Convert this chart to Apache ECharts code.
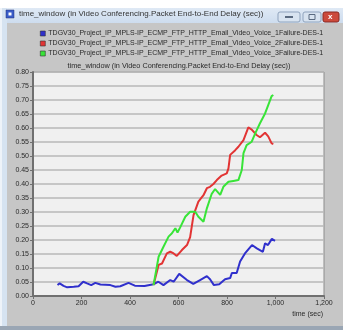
<!DOCTYPE html>
<html><head><meta charset="utf-8">
<script src="https://cdn.jsdelivr.net/npm/echarts@6/dist/echarts.min.js"></script>
<style>html,body{margin:0;padding:0;background:#fff}#c{width:343px;height:330px}</style>
</head><body><div id="c"></div>
<script>
const seriesNames = [
  'TDGV30_Project_IP_MPLS-IP_ECMP_FTP_HTTP_Email_Video_Voice_1Failure-DES-1',
  'TDGV30_Project_IP_MPLS-IP_ECMP_FTP_HTTP_Email_Video_Voice_2Failure-DES-1',
  'TDGV30_Project_IP_MPLS-IP_ECMP_FTP_HTTP_Email_Video_Voice_3Failure-DES-1'
];
const blueTimes = [101,110,126,141,168,188,207,223,240,257,278,319,340,360,394,420,460,497,517,538,566,580,603,635,661,689,717,730,746,768,775,792,813,820,840,854,874,903,923,948,957,969,985,998];
const blueValues = [0.039,0.045,0.036,0.031,0.033,0.035,0.051,0.045,0.039,0.047,0.041,0.039,0.033,0.035,0.047,0.037,0.036,0.042,0.051,0.039,0.057,0.051,0.079,0.057,0.043,0.057,0.071,0.060,0.039,0.042,0.036,0.060,0.064,0.082,0.082,0.123,0.152,0.182,0.170,0.158,0.188,0.182,0.204,0.197];
const redTimes = [497,518,532,552,566,580,593,614,635,648,662,682,703,717,730,744,758,778,799,806,813,819,833,847,868,888,902,922,936,957,970,984,991];
const redValues = [0.039,0.111,0.116,0.152,0.158,0.152,0.143,0.164,0.182,0.21,0.289,0.337,0.36,0.385,0.39,0.40,0.414,0.43,0.438,0.456,0.504,0.51,0.52,0.533,0.557,0.602,0.594,0.575,0.567,0.583,0.57,0.545,0.543];
const greenTimes = [497,518,538,559,573,587,596,607,628,648,669,682,703,717,737,751,772,785,806,826,847,861,868,881,902,916,936,957,970,984,991];
const greenValues = [0.039,0.14,0.176,0.212,0.224,0.242,0.227,0.245,0.283,0.301,0.301,0.283,0.265,0.313,0.365,0.382,0.361,0.39,0.408,0.411,0.414,0.45,0.51,0.539,0.551,0.58,0.617,0.652,0.682,0.714,0.718];
const colors = ['#3030cc','#e23434','#38e438'];
const windowTitle = 'time_window (in Video Conferencing.Packet End-to-End Delay (sec))';
const chartTitle = 'time_window (in Video Conferencing.Packet End-to-End Delay (sec))';
const xAxisName = 'time (sec)';

const pairs = (ts, vs) => ts.map((t, i) => [t, vs[i]]);
const seriesData = [pairs(blueTimes, blueValues), pairs(redTimes, redValues), pairs(greenTimes, greenValues)];
const FONT = 'Liberation Sans, Arial, sans-serif';

const chart = echarts.init(document.getElementById('c'), null, {renderer: 'canvas'});
chart.setOption({
  backgroundColor: '#c6c6c6',
  animation: false,
  textStyle: {fontFamily: FONT},
  title: {
    text: chartTitle, left: 179, top: 62, textAlign: 'center', padding: 0,
    textStyle: {fontSize: 7.3, fontWeight: 'normal', color: '#2a2a2a', fontFamily: FONT}
  },
  legend: {
    orient: 'vertical', left: 40, top: 30, padding: 0, itemGap: 3,
    itemWidth: 5, itemHeight: 5, icon: 'rect',
    itemStyle: {borderColor: '#333', borderWidth: 0.6},
    textStyle: {fontSize: 7, color: '#2a2a2a', padding: [0,0,0,-2], fontFamily: FONT},
    data: seriesNames
  },
  grid: {left: 33, right: 19, top: 72, bottom: 34, show: true, backgroundColor: '#f0f0f0', borderColor: '#8c8c8c', borderWidth: 1},
  xAxis: {
    type: 'value', min: 0, max: 1200, interval: 200,
    axisLine: {show: true, onZero: false, lineStyle: {color: '#707070', width: 2}},
    axisTick: {show: true, length: 3, lineStyle: {color: '#707070'}},
    axisLabel: {fontSize: 7, color: '#2a2a2a', margin: 4, formatter: v => v.toLocaleString('en-US')},
    splitLine: {show: false}
  },
  yAxis: {
    type: 'value', min: 0, max: 0.8, interval: 0.05,
    axisLine: {show: true, lineStyle: {color: '#707070', width: 2}},
    axisTick: {show: true, length: 3, lineStyle: {color: '#707070'}},
    axisLabel: {fontSize: 7, color: '#2a2a2a', margin: 4, formatter: v => v.toFixed(2)},
    splitLine: {show: true, lineStyle: {color: '#b8b8b8', width: 1.5}}
  },
  series: seriesNames.map((n, i) => ({
    name: n, type: 'line', data: seriesData[i], showSymbol: false, smooth: false,
    color: colors[i], lineStyle: {width: 2, color: colors[i]}
  })),
  graphic: [
    {type: 'rect', shape: {x: 0, y: 0, width: 343, height: 8}, style: {fill: '#ffffff'}},
    {type: 'rect', shape: {x: 0, y: 8, width: 343, height: 15}, style: {fill: new echarts.graphic.LinearGradient(0,0,0,1,[{offset:0,color:'#dfe9f5'},{offset:1,color:'#cddcee'}])}},
    {type: 'rect', shape: {x: 0, y: 8, width: 7, height: 322}, style: {fill: '#d6e3f1'}},
    {type: 'rect', shape: {x: 0, y: 8, width: 2, height: 322}, style: {fill: '#eef3f9'}},
    {type: 'rect', shape: {x: 0, y: 326, width: 343, height: 4}, style: {fill: '#9aa6b4'}},
    {type: 'rect', shape: {x: 6, y: 10, width: 8, height: 8}, style: {fill: '#3a5cc8', stroke: '#20307a', lineWidth: 0.5}},
    {type: 'rect', shape: {x: 8.5, y: 12.5, width: 3, height: 3}, style: {fill: '#ffffff'}},
    {type: 'text', left: 19, top: 10, style: {text: windowTitle, fontSize: 8, fill: '#333', fontFamily: FONT}},
    {type: 'rect', shape: {x: 278, y: 12, width: 22, height: 10, r: 2}, style: {fill: '#d8e3f0', stroke: '#8fa3bd', lineWidth: 1}},
    {type: 'rect', shape: {x: 285, y: 16, width: 8, height: 2}, style: {fill: '#5a6a80'}},
    {type: 'rect', shape: {x: 303, y: 12, width: 18, height: 10, r: 2}, style: {fill: '#d8e3f0', stroke: '#8fa3bd', lineWidth: 1}},
    {type: 'rect', shape: {x: 309, y: 14.5, width: 6, height: 5}, style: {fill: 'none', stroke: '#5a6a80', lineWidth: 1}},
    {type: 'rect', shape: {x: 323, y: 12, width: 16, height: 10, r: 2}, style: {fill: '#cc4a3c', stroke: '#8a2a22', lineWidth: 1}},
    {type: 'text', left: 328, top: 12.5, style: {text: 'x', fontSize: 8, fontWeight: 'bold', fill: '#fff', fontFamily: FONT}},
    {type: 'text', right: 20, top: 311, style: {text: xAxisName, fontSize: 7, fill: '#2a2a2a', fontFamily: FONT}}
  ]
});
</script></body></html>
